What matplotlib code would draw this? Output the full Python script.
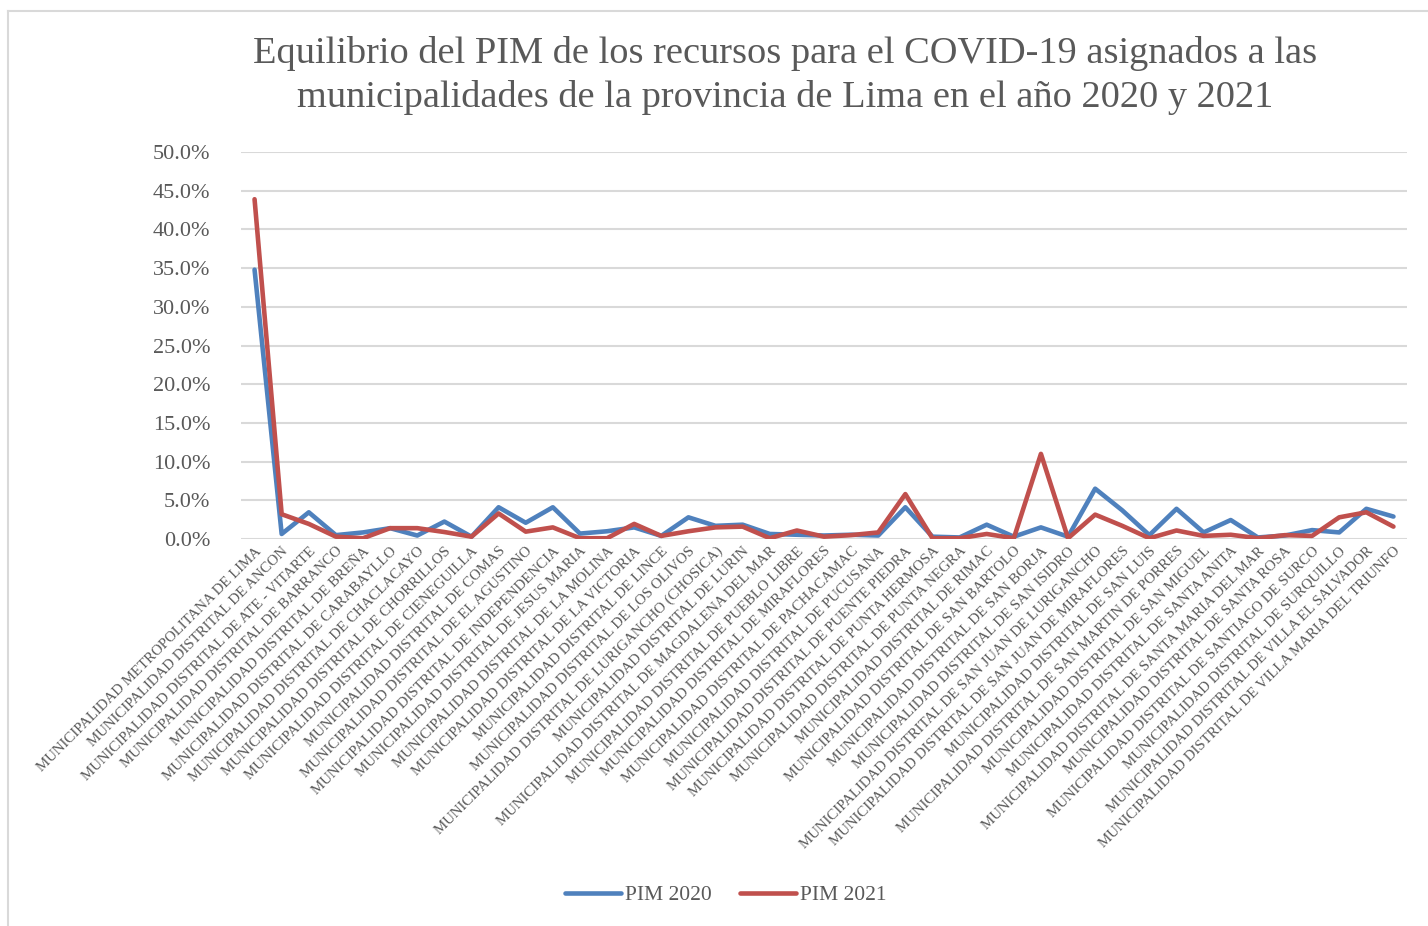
import matplotlib
matplotlib.use("Agg")
import matplotlib.pyplot as plt
from matplotlib.lines import Line2D
from matplotlib.ticker import FuncFormatter

municipalidades = [
    "MUNICIPALIDAD METROPOLITANA DE LIMA",
    "MUNICIPALIDAD DISTRITAL DE ANCON",
    "MUNICIPALIDAD DISTRITAL DE ATE - VITARTE",
    "MUNICIPALIDAD DISTRITAL DE BARRANCO",
    "MUNICIPALIDAD DISTRITAL DE BREÑA",
    "MUNICIPALIDAD DISTRITAL DE CARABAYLLO",
    "MUNICIPALIDAD DISTRITAL DE CHACLACAYO",
    "MUNICIPALIDAD DISTRITAL DE CHORRILLOS",
    "MUNICIPALIDAD DISTRITAL DE CIENEGUILLA",
    "MUNICIPALIDAD DISTRITAL DE COMAS",
    "MUNICIPALIDAD DISTRITAL DE EL AGUSTINO",
    "MUNICIPALIDAD DISTRITAL DE INDEPENDENCIA",
    "MUNICIPALIDAD DISTRITAL DE JESUS MARIA",
    "MUNICIPALIDAD DISTRITAL DE LA MOLINA",
    "MUNICIPALIDAD DISTRITAL DE LA VICTORIA",
    "MUNICIPALIDAD DISTRITAL DE LINCE",
    "MUNICIPALIDAD DISTRITAL DE LOS OLIVOS",
    "MUNICIPALIDAD DISTRITAL DE LURIGANCHO (CHOSICA)",
    "MUNICIPALIDAD DISTRITAL DE LURIN",
    "MUNICIPALIDAD DISTRITAL DE MAGDALENA DEL MAR",
    "MUNICIPALIDAD DISTRITAL DE PUEBLO LIBRE",
    "MUNICIPALIDAD DISTRITAL DE MIRAFLORES",
    "MUNICIPALIDAD DISTRITAL DE PACHACAMAC",
    "MUNICIPALIDAD DISTRITAL DE PUCUSANA",
    "MUNICIPALIDAD DISTRITAL DE PUENTE PIEDRA",
    "MUNICIPALIDAD DISTRITAL DE PUNTA HERMOSA",
    "MUNICIPALIDAD DISTRITAL DE PUNTA NEGRA",
    "MUNICIPALIDAD DISTRITAL DE RIMAC",
    "MUNICIPALIDAD DISTRITAL DE SAN BARTOLO",
    "MUNICIPALIDAD DISTRITAL DE SAN BORJA",
    "MUNICIPALIDAD DISTRITAL DE SAN ISIDRO",
    "MUNICIPALIDAD DISTRITAL DE SAN JUAN DE LURIGANCHO",
    "MUNICIPALIDAD DISTRITAL DE SAN JUAN DE MIRAFLORES",
    "MUNICIPALIDAD DISTRITAL DE SAN LUIS",
    "MUNICIPALIDAD DISTRITAL DE SAN MARTIN DE PORRES",
    "MUNICIPALIDAD DISTRITAL DE SAN MIGUEL",
    "MUNICIPALIDAD DISTRITAL DE SANTA ANITA",
    "MUNICIPALIDAD DISTRITAL DE SANTA MARIA DEL MAR",
    "MUNICIPALIDAD DISTRITAL DE SANTA ROSA",
    "MUNICIPALIDAD DISTRITAL DE SANTIAGO DE SURCO",
    "MUNICIPALIDAD DISTRITAL DE SURQUILLO",
    "MUNICIPALIDAD DISTRITAL DE VILLA EL SALVADOR",
    "MUNICIPALIDAD DISTRITAL DE VILLA MARIA DEL TRIUNFO",
]

pim_2020 = [34.8, 0.65, 3.45, 0.5, 0.85, 1.4, 0.45, 2.25, 0.3, 4.1,
            2.1, 4.1, 0.7, 1.0, 1.5, 0.4, 2.8, 1.7, 1.85, 0.65,
            0.55, 0.45, 0.55, 0.45, 4.1, 0.3, 0.2, 1.85, 0.3, 1.5,
            0.3, 6.5, 3.7, 0.5, 3.9, 0.85, 2.45, 0.2, 0.45, 1.15,
            0.85, 3.9, 2.9]

pim_2021 = [43.9, 3.2, 1.95, 0.3, 0.1, 1.4, 1.4, 0.9, 0.3, 3.3,
            0.95, 1.5, 0.1, 0.1, 1.95, 0.4, 1.0, 1.5, 1.6, 0.1,
            1.1, 0.3, 0.5, 0.85, 5.8, 0.1, 0.1, 0.65, 0.1, 11.0,
            0.1, 3.15, 1.7, 0.1, 1.1, 0.4, 0.55, 0.1, 0.5, 0.4,
            2.8, 3.45, 1.6]

y_ticks = [0, 5, 10, 15, 20, 25, 30, 35, 40, 45, 50]

FONT = "Liberation Serif"
TXT = "#595959"
BLUE = "#4F81BD"
RED = "#C0504D"
GRID = "#D9D9D9"

W, H = 1428, 926
fig = plt.figure(figsize=(W / 100, H / 100), dpi=100)

ax = fig.add_axes([241 / W, 1 - 539 / H, (1407 - 241) / W, (539 - 152) / H])

x = list(range(len(municipalidades)))
ax.plot(x, pim_2020, color=BLUE, lw=3.3, solid_joinstyle="round",
        solid_capstyle="round", label="PIM 2020", zorder=3)
ax.plot(x, pim_2021, color=RED, lw=3.3, solid_joinstyle="round",
        solid_capstyle="round", label="PIM 2021", zorder=4)

ax.set_xlim(-0.5, len(municipalidades) - 0.5)
ax.set_ylim(0, 50)
ax.set_yticks(y_ticks)
ax.yaxis.set_major_formatter(FuncFormatter(lambda v, p: f"{v:.1f}%"))
ax.grid(axis="y", color=GRID, lw=1.5)
ax.set_axisbelow(True)
for s in ax.spines.values():
    s.set_visible(False)
ax.tick_params(axis="y", length=0, pad=22, labelsize=16, labelcolor=TXT)
for lab in ax.get_yticklabels():
    lab.set_fontfamily(FONT)

ax.set_xticks(x)
ax.set_xticklabels(municipalidades, rotation=45, ha="right", va="top",
                   rotation_mode="anchor", fontsize=10.7, color=TXT,
                   fontfamily=FONT)
ax.tick_params(axis="x", length=0, pad=4)

fig.text(785 / W, 1 - 63 / H,
         "Equilibrio del PIM de los recursos para el COVID-19 asignados a las",
         ha="center", va="baseline", fontsize=27.6, color=TXT, fontfamily=FONT)
fig.text(785 / W, 1 - 107 / H,
         "municipalidades de la provincia de Lima en el año 2020 y 2021",
         ha="center", va="baseline", fontsize=27.6, color=TXT, fontfamily=FONT)

handles, labels = ax.get_legend_handles_labels()
leg = fig.legend(handles, labels, loc="center", bbox_to_anchor=(726 / W, 1 - 895 / H),
                 ncol=2, frameon=False, handlelength=2.6, handletextpad=0.2,
                 columnspacing=1.3, prop={"family": FONT, "size": 15.5})
for t in leg.get_texts():
    t.set_color(TXT)

# chart area border (left and top edges visible)
fig.add_artist(Line2D([8 / W, 8 / W], [0, 1 - 11 / H], color=GRID, lw=1.5,
                      transform=fig.transFigure))
fig.add_artist(Line2D([8 / W, 1], [1 - 11 / H, 1 - 11 / H], color=GRID, lw=1.5,
                      transform=fig.transFigure))

fig.savefig("out.png", dpi=100)
